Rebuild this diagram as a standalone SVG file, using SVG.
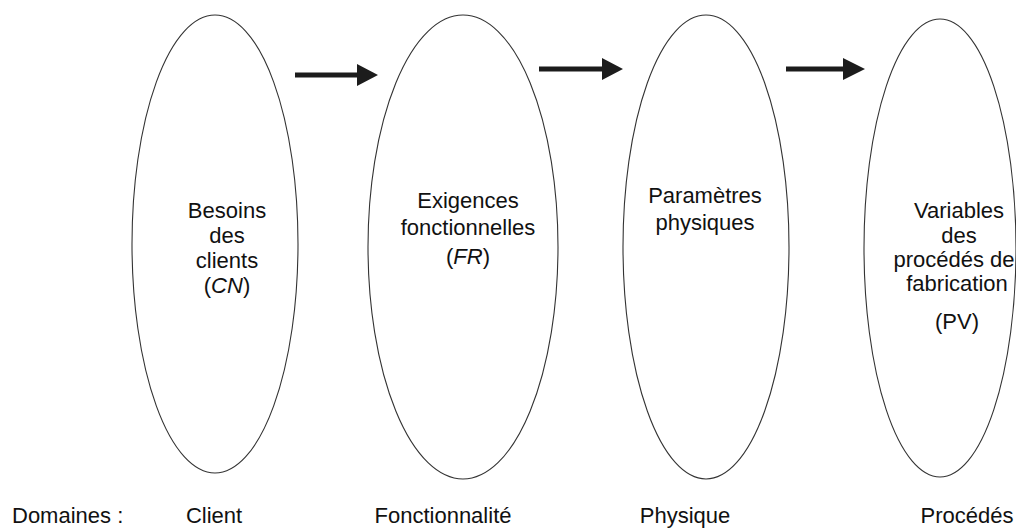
<svg xmlns="http://www.w3.org/2000/svg" width="1016" height="529" viewBox="0 0 1016 529">
  <style>
    .dom { fill: none; stroke: #333; stroke-width: 1.1; }
    .lbl { font-family: "Liberation Sans", Arial, sans-serif; font-size: 22px; fill: #111; text-anchor: middle; }
    .foot { font-family: "Liberation Sans", Arial, sans-serif; font-size: 22px; fill: #111; }
    .arrow { fill: #1c1c1c; }
  </style>
  <rect width="1016" height="529" fill="#fff"/>

  <!-- Domain: customer needs -->
  <g id="node-cn">
    <ellipse class="dom" cx="215" cy="244" rx="83" ry="229"/>
    <text class="lbl" x="227" y="218">Besoins</text>
    <text class="lbl" x="227" y="243">des</text>
    <text class="lbl" x="227" y="268">clients</text>
    <text class="lbl" x="227" y="293">(<tspan font-style="italic">CN</tspan>)</text>
  </g>

  <!-- Domain: functional requirements -->
  <g id="node-fr">
    <ellipse class="dom" cx="463" cy="247" rx="95" ry="232"/>
    <text class="lbl" x="468" y="208">Exigences</text>
    <text class="lbl" x="468" y="235">fonctionnelles</text>
    <text class="lbl" x="468" y="264">(<tspan font-style="italic">FR</tspan>)</text>
  </g>

  <!-- Domain: physical parameters -->
  <g id="node-dp">
    <ellipse class="dom" cx="706" cy="247" rx="83" ry="232"/>
    <text class="lbl" x="705" y="203">Paramètres</text>
    <text class="lbl" x="705" y="230">physiques</text>
  </g>

  <!-- Domain: process variables -->
  <g id="node-pv">
    <ellipse class="dom" cx="940" cy="248" rx="76" ry="229"/>
    <text class="lbl" x="959" y="218">Variables</text>
    <text class="lbl" x="959" y="243">des</text>
    <text class="lbl" x="954" y="267">procédés de</text>
    <text class="lbl" x="957" y="291">fabrication</text>
    <text class="lbl" x="957" y="329">(PV)</text>
  </g>

  <!-- Mapping arrows between domains -->
  <g id="connectors">
    <polygon class="arrow" points="295,72.5 357,72.5 357,64 378,75 357,86 357,77.5 295,77.5"/>
    <polygon class="arrow" points="539,66.5 602,66.5 602,58 623,69 602,80 602,71.5 539,71.5"/>
    <polygon class="arrow" points="786,66.5 843,66.5 843,58 865,69 843,80 843,71.5 786,71.5"/>
  </g>

  <!-- Domain names -->
  <g id="legend">
    <text class="foot" x="12" y="523">Domaines :</text>
    <text class="lbl" x="214" y="523">Client</text>
    <text class="lbl" x="443" y="523">Fonctionnalité</text>
    <text class="lbl" x="685" y="523">Physique</text>
    <text class="lbl" x="967" y="523">Procédés</text>
  </g>
</svg>
